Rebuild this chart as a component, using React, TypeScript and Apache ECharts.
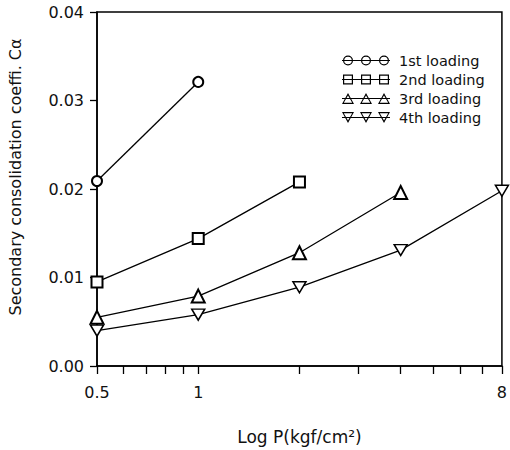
import React, { useEffect, useRef } from "react";
import * as echarts from "echarts";

const seriesNames = ["1st loading", "2nd loading", "3rd loading", "4th loading"];
const pressure1 = [0.5, 1];
const pressure2 = [0.5, 1, 2];
const pressure3 = [0.5, 1, 2, 4];
const pressure4 = [0.5, 1, 2, 4, 8];
const calpha1 = [0.0209, 0.0321];
const calpha2 = [0.0095, 0.0144, 0.0208];
const calpha3 = [0.0055, 0.0079, 0.0128, 0.0196];
const calpha4 = [0.0040, 0.0058, 0.0089, 0.0131, 0.0198];
const xTickValues = [0.5, 0.6, 0.7, 0.8, 0.9, 1, 2, 3, 4, 5, 6, 7, 8];
const xLabelValues = [0.5, 1, 8];
const xTitle = "Log P(kgf/cm²)";
const yTitle = "Secondary consolidation coeffi. Cα";

const FONT = "DejaVu Sans";

const line = "M0 5.5 H48 V6.5 H0 Z ";
const ring = (cx: number) =>
  `M${cx - 5} 6 A5 5 0 1 1 ${cx + 5} 6 A5 5 0 1 1 ${cx - 5} 6 Z M${cx - 3.8} 6 A3.8 3.8 0 1 0 ${cx + 3.8} 6 A3.8 3.8 0 1 0 ${cx - 3.8} 6 Z `;
const sq = (cx: number) =>
  `M${cx - 5} 1 H${cx + 5} V11 H${cx - 5} Z M${cx - 3.8} 2.2 V9.8 H${cx + 3.8} V2.2 Z `;
const tri = (cx: number) =>
  `M${cx} 0.5 L${cx + 6} 11.5 L${cx - 6} 11.5 Z M${cx} 3 L${cx - 4.2} 10.3 L${cx + 4.2} 10.3 Z `;
const dtri = (cx: number) =>
  `M${cx - 6} 0.5 L${cx + 6} 0.5 L${cx} 11.5 Z M${cx - 4.2} 1.7 L${cx} 9 L${cx + 4.2} 1.7 Z `;
const icon = (f: (c: number) => string) =>
  "path://" + line + f(6) + f(24) + f(42);

export default function App() {
  const ref = useRef<HTMLDivElement>(null);
  useEffect(() => {
    if (!ref.current) return;
    const chart = echarts.init(ref.current, null, { renderer: "svg" });
    const zip = (xs: number[], ys: number[]) => xs.map((x, i) => [x, ys[i]]);
    const common = {
      type: "line",
      lineStyle: { color: "#000", width: 1.3 },
      z: 3,
    };
    chart.setOption({
      animation: false,
      backgroundColor: "#fff",
      textStyle: { fontFamily: FONT, color: "#111" },
      grid: {
        left: 97,
        right: 5,
        top: 12,
        bottom: 83,
        show: true,
        borderColor: "#000",
        borderWidth: 1.5,
        backgroundColor: "transparent",
      },
      graphic: [
        {
          type: "text",
          x: 15,
          y: 177,
          rotation: Math.PI / 2,
          style: {
            text: yTitle,
            fontFamily: FONT,
            fontSize: 16,
            fill: "#111",
            align: "center",
            verticalAlign: "middle",
          },
        },
      ],
      legend: {
        left: 337,
        top: 48,
        orient: "vertical",
        itemWidth: 48,
        itemHeight: 12,
        itemGap: 4,
        textStyle: { fontFamily: FONT, fontSize: 14.5, lineHeight: 15, color: "#111", padding: [0, 0, 0, 4] },
        data: [
          { name: seriesNames[0], icon: icon(ring), itemStyle: { color: "#000", borderWidth: 0 } },
          { name: seriesNames[1], icon: icon(sq), itemStyle: { color: "#000", borderWidth: 0 } },
          { name: seriesNames[2], icon: icon(tri), itemStyle: { color: "#000", borderWidth: 0 } },
          { name: seriesNames[3], icon: icon(dtri), itemStyle: { color: "#000", borderWidth: 0 } },
        ],
      },
      xAxis: {
        type: "log",
        logBase: 2,
        min: 0.5,
        max: 8,
        name: xTitle,
        nameLocation: "middle",
        nameGap: 62,
        nameTextStyle: { fontFamily: FONT, fontSize: 17, color: "#111" },
        axisLine: { lineStyle: { color: "#000", width: 1.5 } },
        axisTick: { inside: false, length: 8, lineStyle: { color: "#000", width: 1.3 }, customValues: xTickValues },
        axisLabel: {
          customValues: xLabelValues,
          fontFamily: FONT,
          fontSize: 16,
          color: "#111",
          margin: 18,
          formatter: (v: number) => String(v),
        },
        splitLine: { show: false },
        minorTick: { show: false },
      },
      yAxis: {
        type: "value",
        min: 0,
        max: 0.04,
        interval: 0.01,
        axisLine: { show: true, lineStyle: { color: "#000", width: 1.5 } },
        axisTick: { show: true, inside: false, length: 7, lineStyle: { color: "#000", width: 1.3 } },
        axisLabel: {
          fontFamily: FONT,
          fontSize: 16,
          color: "#111",
          margin: 13,
          formatter: (v: number) => v.toFixed(2),
        },
        splitLine: { show: false },
      },
      series: [
        {
          ...common,
          name: seriesNames[0],
          symbol: "emptyCircle",
          symbolSize: 10,
          itemStyle: { color: "#000", borderWidth: 1.5 },
          data: zip(pressure1, calpha1),
        },
        {
          ...common,
          name: seriesNames[1],
          symbol: "emptyRect",
          symbolSize: 11,
          itemStyle: { color: "#000", borderWidth: 1.5 },
          data: zip(pressure2, calpha2),
        },
        {
          ...common,
          name: seriesNames[2],
          symbol: "emptyTriangle",
          symbolSize: 13,
          itemStyle: { color: "#000", borderWidth: 1.5 },
          data: zip(pressure3, calpha3),
        },
        {
          ...common,
          name: seriesNames[3],
          symbol: "path://M0 0 L12 0 L6 10 Z",
          symbolSize: [13, 11],
          itemStyle: { color: "#fff", borderColor: "#000", borderWidth: 1.5 },
          data: zip(pressure4, calpha4),
        },
      ],
    });
    return () => chart.dispose();
  }, []);
  return <div ref={ref} style={{ width: 510, height: 450, position: "absolute", left: 0, top: 0 }} />;
}
